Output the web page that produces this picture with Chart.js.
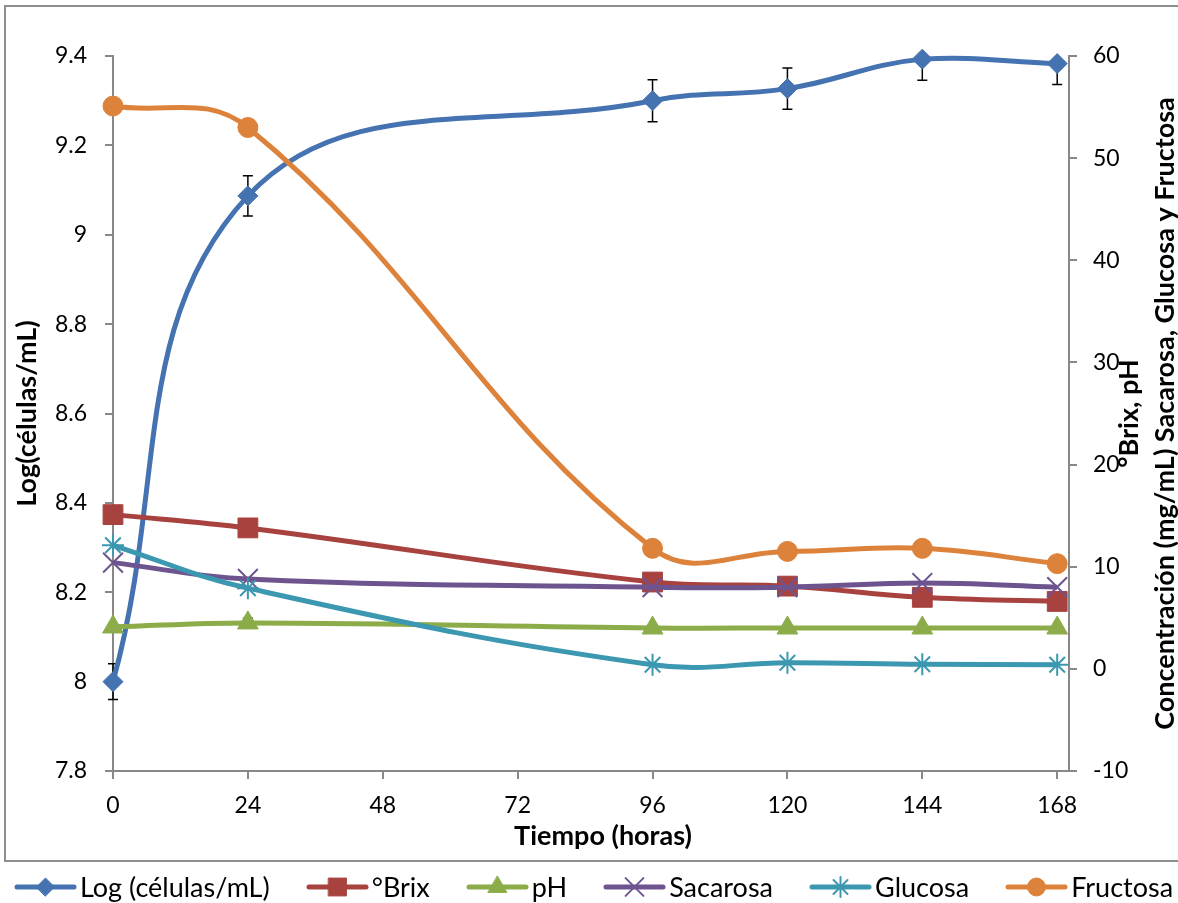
<!DOCTYPE html>
<html>
<head>
<meta charset="utf-8">
<script src="https://cdn.jsdelivr.net/npm/chart.js@4.4.0/dist/chart.umd.min.js"></script>
<style>
  html, body { margin: 0; padding: 0; background: #fff; }
  #wrap { position: relative; width: 1178px; height: 903px; }
  #legend {
    position: absolute; left: 0; top: 872px; width: 1178px; box-sizing: border-box; padding-left: 9px;
    display: flex; justify-content: center; align-items: center; gap: 36px;
    font-family: Lato, sans-serif; font-size: 27px; line-height: 30px; color: #000;
  }
  #legend .item { display: flex; align-items: center; white-space: nowrap; }
  #legend canvas { margin-right: 3px; }
</style>
</head>
<body>
<div id="wrap">
  <canvas id="chart" width="1178" height="903"></canvas>
  <div id="legend"></div>
</div>
<script>
// tiempo de muestreo (horas)
const hours = [0, 24, 96, 120, 144, 168];
const xTicks = [0, 24, 48, 72, 96, 120, 144, 168];

// eje izquierdo
const logCells = [8.0, 9.087, 9.30, 9.327, 9.393, 9.383];
const logErr = [0.04, 0.045, 0.047, 0.046, 0.047, 0.047];

// eje derecho
const brix = [15.1, 13.8, 8.5, 8.1, 7.0, 6.6];
const ph = [4.1, 4.5, 4.0, 4.0, 4.0, 4.0];
const phErr = [0, 0.45, 0, 0, 0, 0];
const sacarosa = [10.4, 8.8, 8.0, 8.0, 8.4, 8.0];
const glucosa = [12.1, 7.9, 0.4, 0.6, 0.45, 0.4];
const fructosa = [55.1, 53.0, 11.8, 11.5, 11.8, 10.3];

const AXIS = '#888888';
const FONT = 'Lato';

const series = [
  { label: 'Log (células/mL)', data: logCells, axis: 'y', color: '#4572B0', style: 'rectRot', radius: 10, bw: 1 },
  { label: '°Brix', data: brix, axis: 'y2', color: '#A8423F', style: 'rect', radius: 14, bw: 1 },
  { label: 'pH', data: ph, axis: 'y2', color: '#8BAC48', style: 'triangle', radius: 12, bw: 1 },
  { label: 'Sacarosa', data: sacarosa, axis: 'y2', color: '#6E548F', style: 'crossRot', radius: 14, bw: 2 },
  { label: 'Glucosa', data: glucosa, axis: 'y2', color: '#3C97B0', style: 'star', radius: 11, bw: 2 },
  { label: 'Fructosa', data: fructosa, axis: 'y2', color: '#DD823B', style: 'circle', radius: 10, bw: 1 },
];

function makeIcon(s) {
  const c = document.createElement('canvas');
  c.width = 63; c.height = 26;
  const ctx = c.getContext('2d');
  ctx.strokeStyle = s.color;
  ctx.fillStyle = s.color;
  ctx.lineWidth = 5;
  ctx.lineCap = 'round';
  ctx.beginPath(); ctx.moveTo(3, 13); ctx.lineTo(60, 13); ctx.stroke();
  ctx.lineWidth = s.bw;
  Chart.helpers.drawPoint(ctx, { pointStyle: s.style, radius: s.radius * 0.9, borderWidth: s.bw, rotation: 0 }, 31.5, 13);
  return c;
}

const legendEl = document.getElementById('legend');
series.forEach(s => {
  const item = document.createElement('div');
  item.className = 'item';
  item.appendChild(makeIcon(s));
  const span = document.createElement('span');
  span.textContent = s.label;
  item.appendChild(span);
  legendEl.appendChild(item);
});

function drawBars(ctx, xs, ys, vals, errs, cap) {
  hours.forEach((h, i) => {
    if (!errs[i]) return;
    const px = xs.getPixelForValue(h);
    const top = ys.getPixelForValue(vals[i] + errs[i]);
    const bot = ys.getPixelForValue(vals[i] - errs[i]);
    ctx.beginPath();
    ctx.moveTo(px, top); ctx.lineTo(px, bot);
    ctx.moveTo(px - cap, top); ctx.lineTo(px + cap, top);
    ctx.moveTo(px - cap, bot); ctx.lineTo(px + cap, bot);
    ctx.stroke();
  });
}

const errorBars = {
  id: 'errorBars',
  beforeDatasetsDraw(chart) {
    const { ctx, chartArea, scales: { x, y, y2 } } = chart;
    ctx.save();
    ctx.beginPath();
    ctx.rect(0, chartArea.top, chart.width, chartArea.bottom - chartArea.top);
    ctx.clip();
    ctx.strokeStyle = '#000';
    ctx.lineWidth = 1.5;
    drawBars(ctx, x, y, logCells, logErr, 5);
    drawBars(ctx, x, y2, ph, phErr, 5);
    ctx.restore();
  }
};

const frame = {
  id: 'frame',
  beforeDraw(chart) {
    const ctx = chart.ctx;
    ctx.save();
    ctx.strokeStyle = '#8e8e8e';
    ctx.lineWidth = 2;
    ctx.strokeRect(5, 6, 1200, 855);
    ctx.restore();
  }
};

// titulos del eje x y del eje derecho (este leído de abajo hacia arriba como en el original)
const axisTitles = {
  id: 'axisTitles',
  afterDraw(chart) {
    const { ctx, chartArea } = chart;
    const cy = (chartArea.top + chartArea.bottom) / 2;
    ctx.save();
    ctx.fillStyle = '#000';
    ctx.font = 'bold 27px ' + FONT;
    ctx.textAlign = 'center';
    ctx.textBaseline = 'middle';
    ctx.fillText('Tiempo (horas)', 603, 836);
    [['°Brix, pH', 1129], ['Concentración (mg/mL) Sacarosa, Glucosa y Fructosa', 1165]].forEach(([t, x]) => {
      ctx.save();
      ctx.translate(x, cy);
      ctx.rotate(-Math.PI / 2);
      ctx.fillText(t, 0, 0);
      ctx.restore();
    });
    ctx.restore();
  }
};

const tickFont = { family: FONT, size: 23 };
const titleFont = { family: FONT, size: 27, weight: 'bold', lineHeight: 1 };
const axisGrid = { drawOnChartArea: false, drawTicks: true, tickLength: 8, color: AXIS, lineWidth: 2 };
const axisBorder = { color: AXIS, width: 2 };

new Chart(document.getElementById('chart'), {
  type: 'line',
  data: {
    datasets: series.map((s, i) => ({
      label: s.label,
      data: hours.map((h, j) => ({ x: h, y: s.data[j] })),
      yAxisID: s.axis,
      borderColor: s.color,
      backgroundColor: s.color,
      borderWidth: 5,
      tension: 0.4,
      pointStyle: s.style,
      pointRadius: s.radius,
      pointBorderWidth: s.bw,
      pointBorderColor: s.color,
      pointBackgroundColor: s.color,
      clip: false,
      order: series.length - i,
    })),
  },
  options: {
    responsive: false,
    animation: false,
    devicePixelRatio: 1,
    layout: { padding: { top: 56, left: 0, right: 0, bottom: 40 } },
    scales: {
      x: {
        type: 'linear',
        min: 0,
        max: 170.1,
        afterBuildTicks: axis => { axis.ticks = xTicks.map(v => ({ value: v })); },
        afterFit: s => { s.height = 92; },
        ticks: { font: tickFont, color: '#000', padding: 13, maxRotation: 0 },
        grid: axisGrid,
        border: axisBorder,
      },
      y: {
        position: 'left',
        min: 7.8,
        max: 9.4,
        afterFit: s => { s.width = 113; },
        ticks: { stepSize: 0.2, font: tickFont, color: '#000', padding: 18, callback: v => String(parseFloat(v.toFixed(2))) },
        grid: axisGrid,
        border: axisBorder,
        title: { display: true, text: 'Log(células/mL)', font: titleFont, color: '#000', padding: { top: 14, bottom: 0 } },
      },
      y2: {
        position: 'right',
        min: -10,
        max: 60,
        afterFit: s => { s.width = 109; },
        ticks: { stepSize: 10, font: tickFont, color: '#000', padding: 16 },
        grid: axisGrid,
        border: axisBorder,
      },
    },
    plugins: {
      tooltip: { enabled: false },
      legend: { display: false },
    },
  },
  plugins: [frame, errorBars, axisTitles],
});
</script>
</body>
</html>
